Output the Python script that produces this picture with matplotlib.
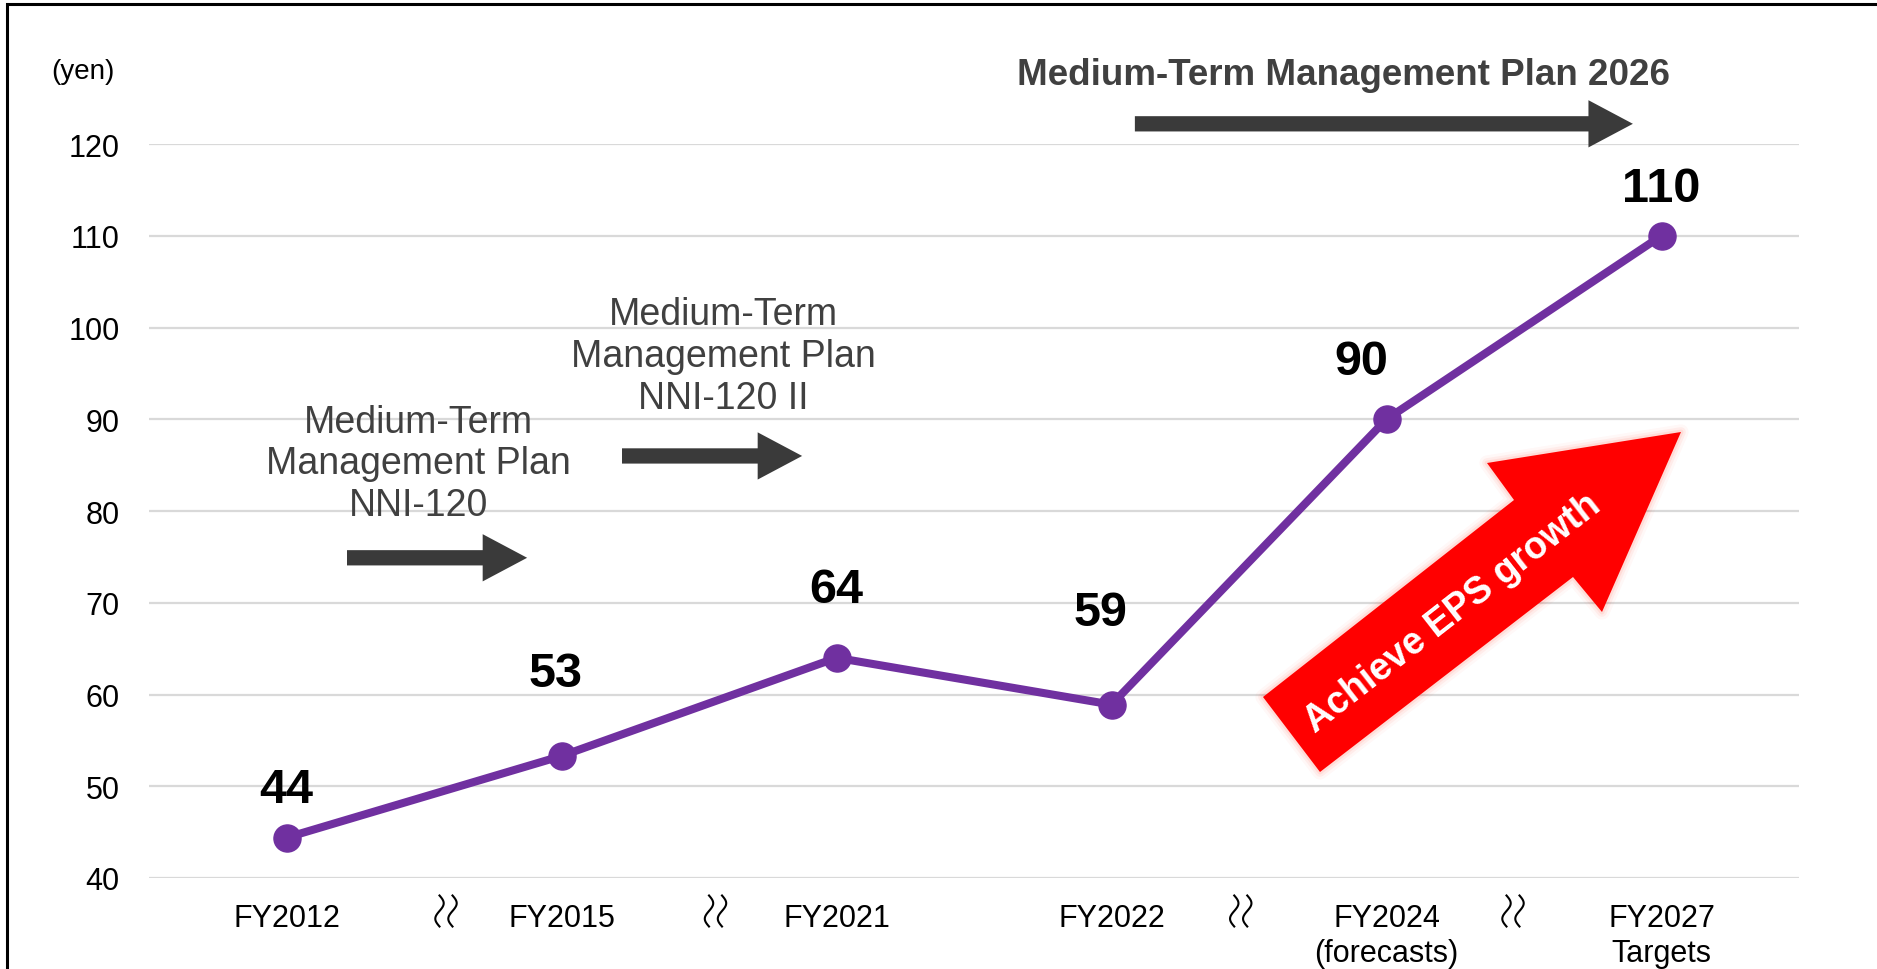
import numpy as np
import matplotlib
matplotlib.use("Agg")
import matplotlib.pyplot as plt
from matplotlib.patches import Polygon, Rectangle, FancyArrowPatch
from matplotlib.lines import Line2D
from matplotlib.transforms import IdentityTransform

plt.rcParams['font.family'] = ['Liberation Sans', 'DejaVu Sans']

# ---------------------------------------------------------------- data
years = ['FY2012', 'FY2015', 'FY2021', 'FY2022', 'FY2024\n(forecasts)', 'FY2027\nTargets']
eps = [44.4, 53.3, 64.0, 58.9, 90.0, 110.0]
eps_labels = ['44', '53', '64', '59', '90', '110']
yticks = [40, 50, 60, 70, 80, 90, 100, 110, 120]
breaks = [0.58, 1.56, 3.47, 4.46]   # where the year axis is cut (≀≀ marks)

# label offsets (x in categories, y in yen)
lab_dx = [0.0, -0.02, 0.0, -0.04, -0.09, 0.0]
lab_dy = [5.2, 9.0, 7.4, 10.0, 6.3, 5.2]

purple = '#7030A0'
dark = '#3a3a3a'
textgrey = '#404040'

W, H = 1877, 970
fig = plt.figure(figsize=(W / 100, H / 100), dpi=100)
ax = fig.add_axes([149 / W, 1 - 879 / H, 1650 / W, 734 / H])

x = np.arange(len(years))
ax.plot(x, eps, color=purple, lw=5.8, marker='o', ms=19.5, zorder=3,
        solid_capstyle='round')

for xi, v, lab, dx, dy in zip(x, eps, eps_labels, lab_dx, lab_dy):
    ax.text(xi + dx, v + dy, lab, ha='center', va='center', fontsize=35,
            fontweight='bold', color='black', zorder=4)

ax.set_xlim(-0.5, len(years) - 0.5)
ax.set_ylim(40, 120)
ax.set_yticks(yticks)
ax.set_xticks(x)
ax.set_xticklabels(years, fontsize=22, linespacing=1.2)
ax.tick_params(axis='y', labelsize=22, length=0, pad=21)
ax.tick_params(axis='x', length=0, pad=18)
ax.grid(axis='y', color='#d9d9d9', lw=1.6)
ax.set_axisbelow(True)
for s in ax.spines.values():
    s.set_visible(False)

# break marks (two small vertical wiggles), level with the first tick-label line
t = np.linspace(0, 1, 60)
for b in breaks:
    xc = ax.transData.transform((b, 40))[0]
    for off in (-6.5, 6.5):
        xs = xc + off + 4.2 * np.sin(2 * np.pi * t)
        ys = (H - 912) + 15.5 - 31 * t
        fig.add_artist(Line2D(xs, ys, transform=IdentityTransform(),
                              color='black', lw=1.5))

fig.text(83 / W, 1 - 72 / H, '(yen)', ha='center', va='center', fontsize=20)

# plan texts
ax.text(0.48, 85.2, 'Medium-Term\nManagement Plan\nNNI-120', ha='center',
        va='center', fontsize=27, color=textgrey, linespacing=1.2)
ax.text(1.59, 96.9, 'Medium-Term\nManagement Plan\nNNI-120 II', ha='center',
        va='center', fontsize=27, color=textgrey, linespacing=1.2)
ax.text(3.845, 127.6, 'Medium-Term Management Plan 2026', ha='center',
        va='center', fontsize=26.5, fontweight='bold', color=textgrey,
        clip_on=False)

for (x0, x1, yy) in [(0.22, 0.875, 74.9), (1.22, 1.875, 86.0), (3.085, 4.896, 122.2)]:
    arr = FancyArrowPatch((x0, yy), (x1, yy), arrowstyle='simple,head_length=1.6,head_width=1.7,tail_width=0.55',
                          mutation_scale=20, color=dark, lw=0, clip_on=False,
                          shrinkA=0, shrinkB=0, zorder=2)
    ax.add_patch(arr)

# red arrow (figure pixel layout)
red_px = [(1263, 698), (1514, 501), (1487, 464), (1681, 433),
          (1602, 613), (1573, 578), (1320, 773)]
red_fig = [(px / W, 1 - py / H) for px, py in red_px]
for lw, a in [(11, 0.03), (7, 0.05), (3.5, 0.08)]:
    fig.patches.append(Polygon(red_fig, closed=True, transform=fig.transFigure,
                               facecolor='none', edgecolor='#ff2000', lw=lw,
                               alpha=a, joinstyle='round', zorder=5))
fig.patches.append(Polygon(red_fig, closed=True, transform=fig.transFigure,
                           facecolor='#ff0000', edgecolor='none', zorder=6))
fig.text(1453 / W, 1 - 613 / H, 'Achieve EPS growth', rotation=38,
         rotation_mode='anchor', ha='center', va='center', fontsize=27,
         fontweight='bold', color='white', zorder=7)

# frame round the slide
fig.patches.append(Rectangle((7 / W, -0.1), 1.2, 1 - 5 / H + 0.1,
                             transform=fig.transFigure, fill=False,
                             edgecolor='black', lw=2.2, zorder=10))

fig.savefig('out.png', dpi=100)
